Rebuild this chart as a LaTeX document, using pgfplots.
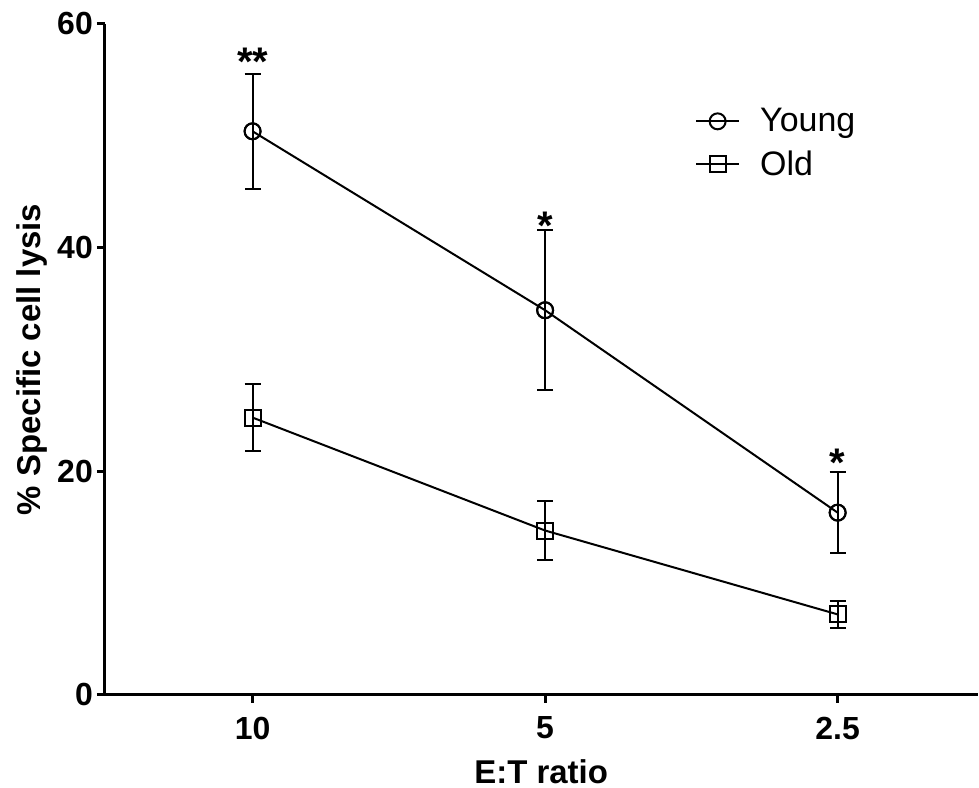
\documentclass[border=0pt]{standalone}
\usepackage{pgfplots}
\pgfplotsset{compat=1.18}
\usepackage{fontspec}
\setmainfont{Liberation Sans}
\usetikzlibrary{calc}
\begin{document}
\begin{tikzpicture}
\begin{axis}[
  name=ax, scale only axis, width=437pt, height=336pt,
  xmin=-0.505, xmax=2.478, ymin=0, ymax=60,
  axis x line=bottom, axis y line=left,
  axis line style={-, line width=1.5pt, black},
  xtick={0,1,2}, xticklabels={10,5,2.5}, ytick={0,20,40,60},
  tick align=outside, major tick length=4pt,
  tick style={line width=1.5pt, black},
  tick label style={font=\fontsize{16}{18}\selectfont\bfseries},
  xticklabel style={yshift=-3.5pt},
  yticklabel style={xshift=1.5pt},
  /pgf/number format/assume math mode=true,
  xlabel={E:T ratio}, ylabel={\% Specific cell lysis},
  label style={font=\fontsize{16.5}{19}\selectfont\bfseries},
  xlabel style={at={(axis description cs:0.5,-0.115)}, anchor=center},
  ylabel style={at={(axis description cs:-0.084,0.5)}, anchor=center},
  legend style={at={(axis description cs:0.669,0.887)}, anchor=north west,
    draw=none, fill=none, font=\fontsize{17}{19}\selectfont, row sep=4pt,
    /tikz/every odd column/.append style={column sep=8pt}},
  legend cell align=left,
  legend image code/.code={\draw[mark repeat=2, mark phase=2, #1] plot coordinates {(0cm,0cm) (0.38cm,0cm) (0.76cm,0cm)};},
  clip=false,
]
% Young: markers + error bars
\addplot[forget plot, black, line width=1pt, only marks, mark=o, mark size=4pt,
  mark options={fill=white, line width=1pt},
  error bars/.cd, y dir=both, y explicit,
  error bar style={line width=1pt},
  error mark options={rotate=90, mark size=4pt, line width=1pt}]
  coordinates {(0,50.4) +- (0,5.15) (1,34.4) +- (0,7.15) (2,16.3) +- (0,3.65)};
\addplot[black, line width=1pt, mark=o, mark size=4pt, mark options={line width=1pt}]
  coordinates {(0,50.4) (1,34.4) (2,16.3)};
\addlegendentry{Young}
% Old
\addplot[forget plot, black, line width=1pt, only marks, mark=square, mark size=4pt,
  mark options={fill=white, line width=1pt},
  error bars/.cd, y dir=both, y explicit,
  error bar style={line width=1pt},
  error mark options={rotate=90, mark size=4pt, line width=1pt}]
  coordinates {(0,24.8) +- (0,3.0) (1,14.7) +- (0,2.6) (2,7.2) +- (0,1.2)};
\addplot[black, line width=1pt, mark=square, mark size=4pt, mark options={line width=1pt}]
  coordinates {(0,24.8) (1,14.7) (2,7.2)};
\addlegendentry{Old}
% significance stars
\node[anchor=base, font=\fontsize{20}{22}\selectfont\bfseries] at (axis cs:0,55.4) {**};
\node[anchor=base, font=\fontsize{20}{22}\selectfont\bfseries] at (axis cs:1,40.7) {*};
\node[anchor=base, font=\fontsize{20}{22}\selectfont\bfseries] at (axis cs:2,19.5) {*};
\end{axis}
\pgfresetboundingbox
\path[use as bounding box] ($(ax.south west)+(-52.5pt,-46.5pt)$) rectangle ($(ax.north east)+(0.75pt,12pt)$);
\end{tikzpicture}
\end{document}
